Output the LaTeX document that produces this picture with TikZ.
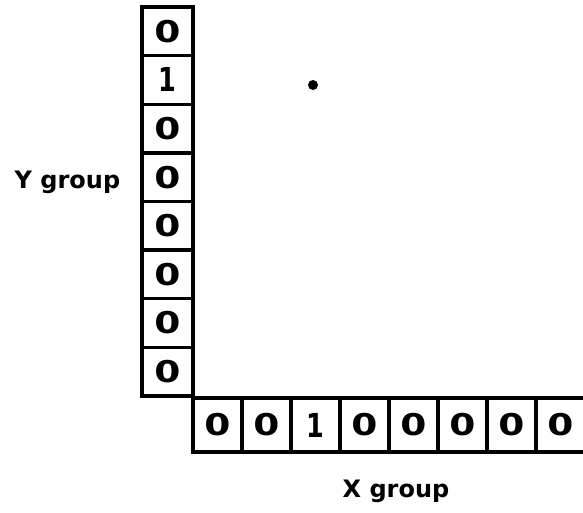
\documentclass[tikz,border=0pt]{standalone}
\usepackage{fontspec}
\usepackage{graphicx}
\setmainfont{DejaVu Sans}
\newcommand{\dzero}{\scalebox{1.25}[1]{0}}
\newcommand{\done}{\scalebox{0.85}[1.1]{1}}
\begin{document}
\begin{tikzpicture}[x=1pt,y=-1pt,
  cellv/.style={draw, line width=3.3pt, minimum width=51pt, minimum height=48.625pt, inner sep=0pt,
    font=\bfseries\fontsize{30}{30}\selectfont},
  cellh/.style={draw, line width=3.3pt, minimum width=49pt, minimum height=54pt, inner sep=0pt,
    font=\bfseries\fontsize{30}{30}\selectfont},
  grouplabel/.style={anchor=base, inner sep=0pt, font=\bfseries\fontsize{24}{25}\selectfont},
  blob/.style={circle, fill, inner sep=0pt, minimum size=10pt}]
\useasboundingbox (0,0) rectangle (583,512);
\clip (0,0) rectangle (583,512);
% Y group column
\foreach \k/\t in {1/\dzero,2/\done,3/\dzero,4/\dzero,5/\dzero,6/\dzero,7/\dzero,8/\dzero}{
  \node[cellv] (y\k) at (167.5, {7+48.625*(\k-0.5)}) {\t};
}
% X group row
\foreach \k/\t in {1/\dzero,2/\dzero,3/\done,4/\dzero,5/\dzero,6/\dzero,7/\dzero,8/\dzero}{
  \node[cellh] (x\k) at ({193+49*(\k-0.5)}, 425) {\t};
}
\node[grouplabel] (ylab) at (67.5,188) {Y group};
\node[grouplabel] (xlab) at (396,497) {X group};
\node[blob] (dot) at (313,85) {};
\end{tikzpicture}
\end{document}
